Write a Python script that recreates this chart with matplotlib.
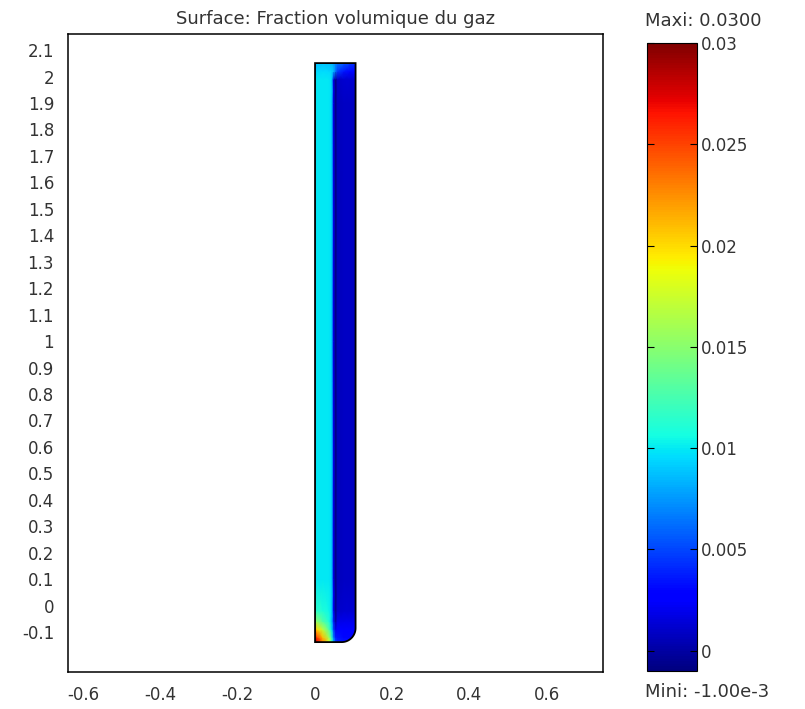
import numpy as np
import matplotlib
matplotlib.use("Agg")
import matplotlib.pyplot as plt
from matplotlib.path import Path
from matplotlib.patches import PathPatch

plt.rcParams['font.family'] = ['DejaVu Sans']

# Domain nodes (m) and the gas volume fraction sampled on them
x_nodes = [0.0, 0.006, 0.02, 0.036, 0.043, 0.048, 0.053, 0.058, 0.075, 0.09, 0.105]
y_nodes = [-0.138, -0.12, -0.09, -0.06, -0.02, 0.1, 1.0, 1.9, 1.99, 2.02, 2.051]

row_m0138 = [0.029, 0.027, 0.023, 0.018, 0.013, 0.008, 0.005, 0.004, 0.0035, 0.0035, 0.0035]
row_m012 = [0.027, 0.025, 0.021, 0.016, 0.012, 0.007, 0.004, 0.0035, 0.003, 0.003, 0.003]
row_m009 = [0.022, 0.020, 0.017, 0.013, 0.010, 0.005, 0.002, 0.0025, 0.0025, 0.0025, 0.0025]
row_m006 = [0.016, 0.015, 0.013, 0.011, 0.009, 0.004, 0.0, 0.0018, 0.002, 0.002, 0.002]
row_m002 = [0.0115, 0.0115, 0.011, 0.0105, 0.0095, 0.003, -0.0008, 0.0010, 0.0013, 0.0013, 0.0013]
row_01 = [0.0098, 0.0100, 0.0100, 0.0100, 0.0095, 0.002, -0.001, 0.0006, 0.0009, 0.0009, 0.0008]
row_10 = [0.0098, 0.0100, 0.0100, 0.0100, 0.0095, 0.002, -0.001, 0.0006, 0.0009, 0.0009, 0.0008]
row_19 = [0.0098, 0.0100, 0.0100, 0.0100, 0.0095, 0.002, -0.001, 0.0006, 0.0009, 0.0009, 0.0008]
row_199 = [0.0098, 0.0100, 0.0100, 0.0100, 0.0095, 0.002, -0.001, 0.0009, 0.0012, 0.0012, 0.0012]
row_202 = [0.0092, 0.0095, 0.0096, 0.0095, 0.0093, 0.0088, 0.0065, 0.0048, 0.0035, 0.003, 0.003]
row_2051 = [0.0085, 0.0088, 0.0088, 0.0086, 0.0083, 0.0078, 0.0072, 0.0066, 0.0057, 0.0048, 0.0042]

fraction = np.array([row_m0138, row_m012, row_m009, row_m006, row_m002, row_01,
                     row_10, row_19, row_199, row_202, row_2051])

vmin, vmax = -0.001, 0.03
cbar_ticks = [0, 0.005, 0.01, 0.015, 0.02, 0.025, 0.03]
cbar_labels = ["0", "0.005", "0.01", "0.015", "0.02", "0.025", "0.03"]
x_ticks = [-0.6, -0.4, -0.2, 0, 0.2, 0.4, 0.6]
y_ticks = [-0.1, 0, 0.1, 0.2, 0.3, 0.4, 0.5, 0.6, 0.7, 0.8, 0.9, 1, 1.1, 1.2,
           1.3, 1.4, 1.5, 1.6, 1.7, 1.8, 1.9, 2, 2.1]

W, H = 805, 709
fig = plt.figure(figsize=(W / 100, H / 100), dpi=100)
ax = fig.add_axes([68 / W, 1 - 672 / H, (603 - 68) / W, (672 - 34) / H])
cax = fig.add_axes([647 / W, 1 - 671 / H, 50 / W, (671 - 43) / H])

X, Y = np.meshgrid(x_nodes, y_nodes)
mesh = ax.pcolormesh(X, Y, fraction, cmap='jet', vmin=vmin, vmax=vmax,
                     shading='gouraud')

# Outline of the column with its rounded lower-right corner
x0, x1 = x_nodes[0], x_nodes[-1]
y0, y1 = y_nodes[0], y_nodes[-1]
rx, ry = 0.036, 0.053
t = np.linspace(-np.pi / 2, 0, 20)
arc = np.column_stack([x1 - rx + rx * np.cos(t), y0 + ry + ry * np.sin(t)])
verts = np.vstack([[[x0, y1], [x0, y0]], arc, [[x1, y1], [x0, y1]]])
outline = Path(verts, closed=True)
clip = PathPatch(outline, transform=ax.transData, facecolor='none', edgecolor='none')
ax.add_patch(clip)
mesh.set_clip_path(clip)
ax.add_patch(PathPatch(outline, facecolor='none', edgecolor='black', lw=1.3, zorder=3))

ax.set_xlim(-0.640, 0.746)
ax.set_ylim(-0.251, 2.161)
ax.set_xticks(x_ticks)
ax.set_xticklabels([("%g" % v) for v in x_ticks])
ax.set_yticks(y_ticks)
ax.set_yticklabels([("%g" % v) for v in y_ticks])
ax.tick_params(length=0, labelsize=12, labelcolor='#333333', pad=10)
for s in ax.spines.values():
    s.set_linewidth(1.1)
ax.set_title("Surface: Fraction volumique du gaz", fontsize=13, color='#333333', pad=7)

cb = fig.colorbar(mesh, cax=cax)
cb.set_ticks(cbar_ticks)
cb.set_ticklabels(cbar_labels)
cax.tick_params(direction='in', length=5, left=True, right=True, width=0.8,
                labelsize=12, labelcolor='#333333', pad=3)
cb.outline.set_linewidth(0.8)

fig.text(645 / W, 1 - 21 / H, "Maxi: 0.0300", fontsize=13, color='#333333',
         va='center', ha='left')
fig.text(645 / W, 1 - 692 / H, "Mini: -1.00e-3", fontsize=13, color='#333333',
         va='center', ha='left')

fig.savefig("out.png", dpi=100)
